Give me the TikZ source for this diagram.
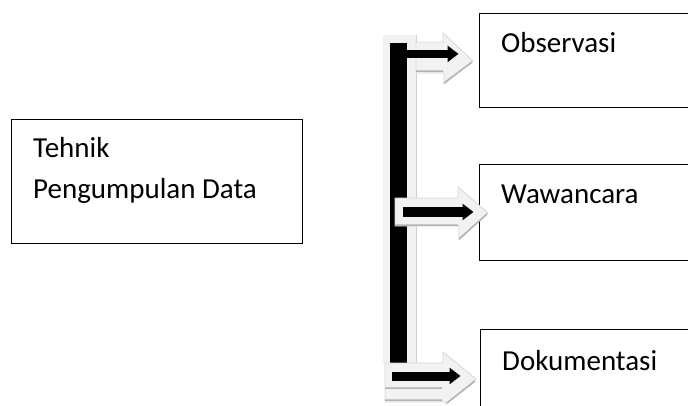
\documentclass[tikz,border=0pt]{standalone}
\usepackage{fontspec}
\setmainfont{Carlito}
\usetikzlibrary{arrows.meta}

\tikzset{kotak/.style={draw, line width=1pt, inner sep=0pt},
	teks/.style={font=\fontsize{29}{35}\selectfont, inner sep=0pt, anchor=base west},
	panah/.style={line width=#1, -{Triangle[length=11pt,width=16pt]}},
	bayang/.style={fill=black!5, draw=black!16, line width=.8pt},
	tepi/.style={draw=black!30, line width=1.5pt},
	batang/.style={line width=17pt}}

\begin{document}
\begin{tikzpicture}[x=1pt,y=-1pt]
	 \useasboundingbox (0,0) rectangle (688,405);
	 \clip (0,0) rectangle (688,405);

	 \node[kotak, minimum width=291pt, minimum height=124pt] (tehnik) at (156.5,181) {};
	 \node[kotak, minimum width=260pt, minimum height=94pt] (obs) at (609,60) {};
	 \node[kotak, minimum width=260pt, minimum height=96pt] (waw) at (609,212) {};
	 \node[kotak, minimum width=260pt, minimum height=96pt] (dok) at (610,377) {};

	 \node[teks] (tehnik-a) at (33,157) {Tehnik};
	 \node[teks] (tehnik-b) at (33,198) {Pengumpulan Data};
	 \node[teks] (obs-t) at (501,52) {Observasi};
	 \node[teks] (waw-t) at (501,203) {Wawancara};
	 \node[teks] (dok-t) at (502,370) {Dokumentasi};

	 \fill[black!5] (383,35) rectangle (416,363);
	 \draw[black!18, line width=1pt] (416,35) -- (416,363);
	 \draw[batang] (398.5,43) --
		coordinate[pos=.034](o1)
		coordinate[pos=.528](o2) (398.5,363);
	 \coordinate (o3) at (392,376);

	 \draw[bayang] (416,42) -- (443,42) -- (443,33) -- (473,61) -- (444,84) -- (444,73) -- (416,73) -- cycle;
	 \draw[tepi] (444,83) -- (472,62) (416,71) -- (443,71);
	 \draw[bayang] (395,198) -- (458,198) -- (458,187) -- (488,213) -- (459,240) -- (459,226) -- (395,226) -- cycle;
	 \draw[tepi] (459,239) -- (487,214) (395,225) -- (458,225);
	 \draw[bayang] (385,363) -- (443,363) -- (443,352) -- (476,379) -- (446,404) -- (446,402) -- (385,402) -- cycle;
	 \draw[tepi] (447,403) -- (475,381) (385,388) -- (442,388) (385,400) -- (442,400);

	 \draw[panah=8pt, shorten >=20pt] (o1) -- (o1 -| obs.west);
	 \draw[panah=10pt, shorten <=4.5pt, shorten >=5pt] (o2) -- (o2 -| waw.west);
	 \draw[panah=9pt, shorten >=19pt] (o3) -- (o3 -| dok.west);

\end{tikzpicture}
\end{document}
